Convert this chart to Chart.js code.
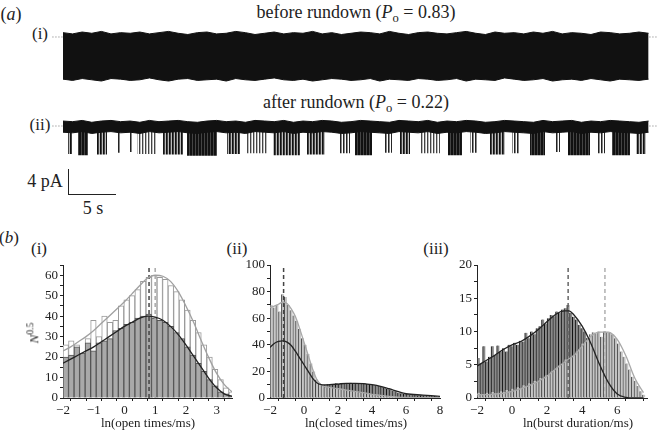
<!DOCTYPE html>
<html>
<head>
<meta charset="utf-8">
<script src="https://cdn.jsdelivr.net/npm/chart.js@4.4.0/dist/chart.umd.min.js"></script>
<style>
  body { margin: 0; width: 660px; height: 432px; position: relative; overflow: hidden; background: #fff;
         font-family: "Liberation Serif", "DejaVu Serif", serif; color: #222; }
  canvas { position: absolute; }
  .t { position: absolute; white-space: nowrap; line-height: 1; transform: translate(-50%, -50%); }
  .t sub { font-size: 0.7em; vertical-align: -0.3em; line-height: 0; }
  .bar { position: absolute; background: #222; }
</style>
</head>
<body>
<!-- (a) traces -->
<div class="t" style="left:11px;top:14px;font-size:18px">(<i>a</i>)</div>
<div class="t" style="left:356px;top:12px;font-size:18px">before rundown (<i>P</i><sub>o</sub> = 0.83)</div>
<div class="t" style="left:40px;top:33px;font-size:17px">(i)</div>
<canvas id="traceA" width="608" height="56" style="left:52px;top:28px"></canvas>

<div class="t" style="left:356px;top:102px;font-size:18px">after rundown (<i>P</i><sub>o</sub> = 0.22)</div>
<div class="t" style="left:40px;top:124px;font-size:17px">(ii)</div>
<canvas id="traceB" width="608" height="48" style="left:52px;top:114px"></canvas>

<!-- scale bar -->
<div class="t" style="left:45px;top:181px;font-size:18px">4 pA</div>
<div class="bar" style="left:68px;top:169px;width:1px;height:26px"></div>
<div class="bar" style="left:68px;top:194px;width:48px;height:1px"></div>
<div class="t" style="left:93px;top:208px;font-size:18px">5 s</div>

<!-- (b) histograms -->
<div class="t" style="left:9px;top:237px;font-size:17px">(<i>b</i>)</div>
<div class="t" style="left:39px;top:248px;font-size:17px">(i)</div>
<div class="t" style="left:237px;top:248px;font-size:17px">(ii)</div>
<div class="t" style="left:436px;top:248px;font-size:17px">(iii)</div>
<canvas id="histOpen" width="240" height="182" style="left:0px;top:250px"></canvas>
<canvas id="histClosed" width="222" height="182" style="left:225px;top:250px"></canvas>
<canvas id="histBurst" width="220" height="182" style="left:440px;top:250px"></canvas>
<div class="t" style="left:33px;top:333px;font-size:13px;transform:translate(-50%,-50%) rotate(-90deg)"><i>N</i><sup style="font-size:0.75em">0.5</sup></div>
<div class="t" style="left:148px;top:422px;font-size:13px">ln(open times/ms)</div>
<div class="t" style="left:356px;top:422px;font-size:13px">ln(closed times/ms)</div>
<div class="t" style="left:578px;top:422px;font-size:13px">ln(burst duration/ms)</div>

<script>
Chart.defaults.font.family = "'Liberation Serif', 'Times New Roman', serif"
Chart.defaults.font.size = 13
Chart.defaults.color = '#222'
Chart.defaults.animation = false

// ---- (a) current traces: time (s) and current edges (pA) ----
const traceTimes = [0,1,2,3,4,5,6,7,8,9,10,11,12,13,14,15,16,17,18,19,20,21,22,23,24,25,26,27,28,29,30,
  31,32,33,34,35,36,37,38,39,40,41,42,43,44,45,46,47,48,49,50,51,52,53,54,55,56,57,58,59,60,61]

// before rundown: the dense flicker band
const bandTopA = [0.7,0.5,0.8,0.6,0.9,0.5,0.7,0.6,0.8,0.5,
  0.7,0.9,0.6,0.4,0.7,0.8,0.5,0.6,0.9,0.7,
  0.4,0.6,0.8,0.5,0.7,0.6,0.9,0.5,0.7,0.4,
  0.6,0.8,0.7,0.5,0.9,0.6,0.4,0.7,0.8,0.6,
  0.5,0.7,0.9,0.6,0.4,0.8,0.6,0.7,0.5,0.8,
  0.6,0.9,0.5,0.7,0.6,0.4,0.8,0.7,0.5,0.6,
  0.8,0.6]
const bandBottomA = [-6.8,-7.0,-6.7,-6.9,-7.1,-6.7,-6.8,-7.0,-6.9,-6.6,
  -6.9,-7.1,-6.8,-6.7,-7.0,-6.9,-6.8,-7.1,-6.7,-6.9,
  -7.0,-6.8,-6.6,-6.9,-7.0,-6.8,-7.1,-6.9,-6.7,-6.8,
  -7.0,-6.9,-6.7,-7.1,-6.8,-6.9,-7.0,-6.7,-6.8,-7.0,
  -6.9,-6.7,-7.1,-6.8,-6.9,-7.0,-6.6,-6.8,-7.0,-6.9,
  -6.7,-7.1,-6.9,-6.8,-7.0,-6.7,-6.9,-7.1,-6.8,-6.9,
  -7.0,-6.8]
const gapTimesA = [19.3, 39.0, 42.5]

// after rundown: baseline noise band plus bursts of openings
const bandTopB = [0.8,0.7,0.9,0.6,0.8,0.9,0.7,0.8,0.6,0.9,
  0.7,0.8,0.9,0.7,0.6,0.8,0.9,0.7,0.8,0.6,
  0.9,0.8,0.7,0.9,0.6,0.8,0.7,0.9,0.8,0.6,
  0.7,0.9,0.8,0.7,0.6,0.9,0.8,0.7,0.9,0.6,
  0.8,0.7,0.9,0.8,0.6,0.7,0.9,0.8,0.7,0.6,
  0.9,0.7,0.8,0.9,0.6,0.8,0.7,0.9,0.8,0.7,
  0.6,0.8]
const bandBottomB = [-1.0,-1.1,-0.9,-1.2,-1.0,-0.9,-1.1,-1.0,-1.2,-0.9,
  -1.1,-1.0,-0.9,-1.1,-1.2,-1.0,-0.9,-1.1,-1.0,-1.2,
  -0.9,-1.0,-1.1,-0.9,-1.2,-1.0,-1.1,-0.9,-1.0,-1.2,
  -1.1,-0.9,-1.0,-1.1,-1.2,-0.9,-1.0,-1.1,-0.9,-1.2,
  -1.0,-1.1,-0.9,-1.0,-1.2,-1.1,-0.9,-1.0,-1.1,-1.2,
  -0.9,-1.1,-1.0,-0.9,-1.2,-1.0,-1.1,-0.9,-1.0,-1.1,
  -1.2,-1.0]
const burstStart = [0.52,1.56,3.54,5.63,6.98,7.71,10.42,12.92,17.08,19.17,21.88,25.42,28.85,30.42,
  33.54,35.10,37.19,40.10,42.40,44.48,46.77,48.65,51.25,52.60,55.63,57.19,59.69]
const burstEnd = [0.94,2.60,4.58,5.94,7.19,9.79,12.50,16.04,18.44,21.25,24.69,27.29,29.90,32.19,
  34.27,36.15,39.27,41.56,43.23,46.04,47.60,50.21,51.77,54.90,56.46,59.06,60.73]
const burstDepth = [-4.5,-4.7,-4.6,-4.3,-4.2,-4.5,-4.6,-4.8,-4.5,-4.4,-4.7,-4.6,-4.4,-4.7,
  -4.3,-4.5,-4.4,-4.7,-4.3,-4.6,-4.4,-4.7,-4.2,-4.7,-4.4,-4.7,-4.5]
const burstDensity = [0.8,0.9,0.8,0.6,0.6,0.4,0.7,0.9,0.7,0.4,0.8,0.8,0.6,0.9,
  0.6,0.7,0.4,0.9,0.6,0.7,0.5,0.9,0.6,0.9,0.6,0.9,0.7]

// ---- (b)(i) open times ----
const openBins = [-1.91,-1.73,-1.55,-1.37,-1.19,-1.01,-0.83,-0.65,-0.47,-0.29,-0.11,0.07,0.25,0.43,0.61,
  0.79,0.97,1.15,1.33,1.51,1.69,1.87,2.05,2.23,2.41,2.59,2.77,2.95,3.13,3.31,3.49]
const openBefore = [26,28,26,14,29,38,30,40,37,38,45,48,50,53,57,59,60,59,58,55,52,48,43,38,32,26,20,14,9,5,3]
const openAfter = [20,21,25,22,27,23,27,28,29,33,34,36,37,39,40,41,39,38,37,35,32,29,25,21,17,13,9,6,3,2,1]
const openFitX = [-2,-1.75,-1.5,-1.25,-1,-0.75,-0.5,-0.25,0,0.25,0.5,0.75,1,1.25,1.5,1.75,2,2.25,2.5,2.75,3,3.25,3.5]
const openFitBefore = [23,25,27.5,30,33,36.5,40,43.5,47,51,55,58.5,60,59.5,57,52,45,37,28,19.5,12,6.5,3]
const openFitAfter = [17,19,21,23,25,27.5,30,32.5,35,37,39,40,39.5,38,35,31,26,20.5,15,9.5,5,2,0.8]
const openMeanBefore = 1.0
const openMeanAfter = 0.8
const openXTicks = [-2,-1,0,1,2,3]
const openYTicks = [0,10,20,30,40,50,60]

// ---- (b)(ii) closed times ----
const closedBins = [-1.92,-1.75,-1.58,-1.42,-1.25,-1.08,-0.92,-0.75,-0.58,-0.42,
  -0.25,-0.08,0.08,0.25,0.42,0.58,0.75,0.92,1.08,1.25,
  1.42,1.58,1.75,1.92,2.08,2.25,2.42,2.58,2.75,2.92,
  3.08,3.25,3.42,3.58,3.75,3.92,4.08,4.25,4.42,4.58,
  4.75,4.92,5.08,5.25,5.42,5.58,5.75,5.92,6.08,6.25,
  6.42,6.58,6.75,6.92,7.08,7.25,7.42,7.58,7.75,7.92]
const closedBefore = [70,68,70,65,78,76,70,66,62,58,
  52,45,40,33,26,20,14,11,9,8,
  8,7.5,7,7,6.5,6,6,5.5,5,5,
  4.5,4,4,3.5,3,3,2.5,2,2,1.5,
  1.5,1,1,1,0.8,0.8,0.5,0.5,0.5,0.3,
  0.3,0.3,0,0,0,0,0,0,0,0]
const closedAfter = [38,40,41,43,42,43,41,39,36,33,
  29,26,23,19,16,13,11,10,10,10,
  10.5,10,10.5,11,10.5,11,11,11,11.5,11,
  11,11,10.5,11,10.5,10,10,9.5,9,8.5,
  8,7,6.5,5.5,5,4,3.5,3,3,2.5,
  2.5,2.5,2,2,2,2,1.5,1.5,1.5,1]
const closedFitX = [-2,-1.75,-1.5,-1.25,-1,-0.75,-0.5,-0.25,0,0.25,0.5,0.75,1,1.25,1.5,2,2.5,3,3.5,4,4.5,5,5.5,6,7,8]
const closedFitBefore = [68,69,70.5,72,71,67,61,52,42,32,22,14,10,8.5,8,7,6,5,4,2.8,2,1.2,0.7,0.4,0.2,0.1]
const closedFitAfter = [38,41,42.5,43,42,39.5,35,30,25,20,15,11.5,10,9.8,10,10.5,11,11,10.8,10,8.8,7,5,3.2,2.2,1.2]
const closedMeanAfter = -1.2
const closedXTicks = [-2,0,2,4,6,8]
const closedYTicks = [0,20,40,60,80,100]

// ---- (b)(iii) burst durations ----
const burstBins = [-1.92,-1.76,-1.60,-1.44,-1.28,-1.12,-0.96,-0.80,-0.64,-0.48,
  -0.32,-0.16,0.00,0.16,0.32,0.48,0.64,0.80,0.96,1.12,
  1.28,1.44,1.60,1.76,1.92,2.08,2.24,2.40,2.56,2.72,
  2.88,3.04,3.20,3.36,3.52,3.68,3.84,4.00,4.16,4.32,
  4.48,4.64,4.80,4.96,5.12,5.28,5.44,5.60,5.76,5.92,
  6.08,6.24,6.40,6.56,6.72,6.88,7.04,7.20,7.36,7.52]
const burstBefore = [0.8,0.6,0.5,0.8,0.6,0.9,0.7,0.8,1.0,0.9,
  1.2,1.0,1.4,1.2,1.6,1.5,1.9,1.7,2.2,2.1,
  2.6,2.4,3.0,2.9,3.4,3.5,4.0,4.2,4.6,5.0,
  5.2,5.8,5.6,6.2,6.5,7.0,7.4,8.2,8.4,9.0,
  9.6,9.9,9.7,10.0,9.2,10.0,9.9,9.8,9.6,9.0,
  8.2,7.0,6.2,5.2,4.3,3.2,2.6,1.8,1.0,0.5]
const burstAfter = [6.0,5.2,7.8,5.5,6.2,7.8,6.5,7.9,7.0,7.5,
  7.0,8.0,7.8,8.3,8.0,8.6,8.5,9.8,9.0,10.0,
  9.6,10.5,10.8,11.8,11.2,12.0,12.5,12.3,13.0,12.8,
  13.3,13.5,14.0,12.8,12.2,11.8,11.0,10.5,10.0,9.0,
  8.2,7.3,6.5,5.5,4.5,3.6,2.8,2.0,1.4,0.9,
  0.6,0.4,0.2,0.1,0,0,0,0,0,0]
const burstFitX = [-2,-1.5,-1,-0.5,0,0.5,1,1.5,2,2.5,3,3.25,3.5,4,4.5,5,5.5,6,6.5,7,7.5]
const burstFitBefore = [0.5,0.5,0.6,0.7,1.0,1.4,1.9,2.5,3.3,4.4,5.4,5.9,6.3,7.8,9.3,9.9,9.9,8.8,6.3,3.0,0.8]
const burstFitAfter = [4.8,5.6,6.4,7.3,8.0,8.5,9.3,10.3,11.5,12.6,13.1,13.1,12.6,10.8,8.2,5.0,2.3,0.6,0.1,0,0]
const burstMeanBefore = 5.3
const burstMeanAfter = 3.2
const burstXTicks = [-2,0,2,4,6]
const burstYTicks = [0,5,10,15,20]

const toXY = (xs, ys) => xs.map((x, i) => ({ x: x, y: ys[i] }))
const minus = v => v < 0 ? '\u2212' + Math.abs(v) : String(v)

// vertical hatching used to fake the densely flickering bursts
function hatch(ctx, density) {
  const c = document.createElement('canvas')
  c.width = 3
  c.height = 1
  const g = c.getContext('2d')
  let cols = ['#444', '#bbb', '#fff']
  if (density >= 0.85) cols = ['#111', '#111', '#444']
  else if (density >= 0.65) cols = ['#111', '#444', '#bbb']
  else if (density >= 0.5) cols = ['#222', '#888', '#fff']
  cols.forEach((col, i) => { g.fillStyle = col; g.fillRect(i, 0, 1, 1) })
  return ctx.createPattern(c, 'repeat')
}

function traceChart(id, top, bottom, yMin, yMax, extra) {
  const datasets = [
    { data: toXY(traceTimes, top), borderColor: '#111', borderWidth: 1, fill: '+1', backgroundColor: '#111' },
    { data: toXY(traceTimes, bottom), borderColor: '#111', borderWidth: 1, fill: false }
  ].concat(extra)
  // closed level, dotted, peeks out on both sides
  datasets.push({ data: [{ x: -1.1, y: 0 }, { x: 62.0, y: 0 }], borderColor: '#777', borderWidth: 1,
    borderDash: [1, 2], fill: false })
  new Chart(document.getElementById(id), {
    type: 'line',
    data: { datasets: datasets },
    options: {
      responsive: false,
      layout: { padding: 0 },
      plugins: { legend: { display: false }, tooltip: { enabled: false } },
      elements: { point: { radius: 0 }, line: { tension: 0 } },
      scales: {
        x: { type: 'linear', min: -1.146, max: 62.19, display: false },
        y: { min: yMin, max: yMax, display: false }
      }
    }
  })
}

// trace (i): closed level at y = 37 px, 6.2 px per pA
const gapLines = gapTimesA.map(t => ({
  data: [{ x: t, y: -6.4 }, { x: t, y: 0.3 }], borderColor: '#bbb', borderWidth: 1, fill: false
}))
traceChart('traceA', bandTopA, bandBottomA, -7.58, 1.45, gapLines)

// trace (ii): closed level at y = 126 px
const ctxB = document.getElementById('traceB').getContext('2d')
const bursts = burstStart.map((s, i) => ({
  data: [{ x: s, y: 0 }, { x: s, y: burstDepth[i] }, { x: burstEnd[i], y: burstDepth[i] }, { x: burstEnd[i], y: 0 }],
  borderWidth: 0, borderColor: 'rgba(0,0,0,0)', fill: 'origin', backgroundColor: hatch(ctxB, burstDensity[i])
}))
traceChart('traceB', bandTopB, bandBottomB, -5.8, 1.935, bursts)

function histChart(id, o) {
  const datasets = []
  o.fits.forEach(f => datasets.push({
    type: 'line', data: toXY(o.fitX, f.y), borderColor: f.color, borderWidth: 1.3,
    cubicInterpolationMode: 'monotone', pointRadius: 0, fill: false
  }))
  o.means.forEach(m => datasets.push({
    type: 'line', data: [{ x: m.x, y: 0 }, { x: m.x, y: o.yMax }], borderColor: m.color,
    borderWidth: 1.5, borderDash: [4, 3], pointRadius: 0, fill: false
  }))
  datasets.push(Object.assign({ type: 'bar', data: toXY(o.bins, o.front) }, o.frontStyle))
  datasets.push(Object.assign({ type: 'bar', data: toXY(o.bins, o.back) }, o.backStyle))

  const axis = (ticks, labels, fitFn) => ({
    type: 'linear',
    offset: false,
    grid: { display: true, drawOnChartArea: false, drawTicks: true, tickLength: 3, color: '#222', tickColor: '#222' },
    border: { display: true, color: '#222', width: 1 },
    ticks: {
      autoSkip: false, maxRotation: 0, padding: 2, color: '#222',
      callback: v => labels.includes(v) ? minus(v) : ''
    },
    afterBuildTicks: s => { s.ticks = ticks.map(v => ({ value: v })) },
    afterFit: fitFn
  })

  const x = axis(o.xTickVals, o.xLabels, s => { s.height = 34 })
  x.min = o.xMin
  x.max = o.xMax
  const y = axis(o.yTickVals, o.yLabels, s => { s.width = o.yWidth })
  y.min = 0
  y.max = o.yMax

  new Chart(document.getElementById(id), {
    type: 'bar',
    data: { datasets: datasets },
    options: {
      responsive: false,
      layout: { padding: { left: 0, top: 15, right: o.padRight, bottom: 0 } },
      plugins: { legend: { display: false }, tooltip: { enabled: false } },
      datasets: { bar: { grouped: false, barPercentage: 1, categoryPercentage: 1 } },
      scales: { x: x, y: y }
    }
  })
}

const stripeLight = { backgroundColor: '#c6c6c6', borderColor: '#4a4a4a', borderWidth: { left: 1, right: 0, top: 0, bottom: 0 } }
const stripeDark = { backgroundColor: '#8a8a8a', borderColor: '#111', borderWidth: { left: 1, right: 0, top: 0, bottom: 0 } }

histChart('histOpen', {
  bins: openBins, front: openAfter, back: openBefore,
  frontStyle: { backgroundColor: '#a9a9a9', borderColor: '#555', borderWidth: 1 },
  backStyle: { backgroundColor: '#fff', borderColor: '#9a9a9a', borderWidth: 1 },
  fitX: openFitX,
  fits: [{ y: openFitAfter, color: '#222' }, { y: openFitBefore, color: '#a0a0a0' }],
  means: [{ x: openMeanAfter, color: '#444' }, { x: openMeanBefore, color: '#aaa' }],
  xMin: -2, xMax: 3.5, yMax: 65,
  xTickVals: [-2,-1.5,-1,-0.5,0,0.5,1,1.5,2,2.5,3,3.5], xLabels: openXTicks,
  yTickVals: [0,5,10,15,20,25,30,35,40,45,50,55,60,65], yLabels: openYTicks,
  yWidth: 63, padRight: 8
})

histChart('histClosed', {
  bins: closedBins, front: closedBefore, back: closedAfter,
  frontStyle: stripeLight, backStyle: stripeDark,
  fitX: closedFitX,
  fits: [{ y: closedFitAfter, color: '#222' }, { y: closedFitBefore, color: '#a8a8a8' }],
  means: [{ x: closedMeanAfter, color: '#444' }],
  xMin: -2, xMax: 8, yMax: 100,
  xTickVals: [-2,-1,0,1,2,3,4,5,6,7,8], xLabels: closedXTicks,
  yTickVals: [0,10,20,30,40,50,60,70,80,90,100], yLabels: closedYTicks,
  yWidth: 45, padRight: 7
})

histChart('histBurst', {
  bins: burstBins, front: burstBefore, back: burstAfter,
  frontStyle: stripeLight, backStyle: stripeDark,
  fitX: burstFitX,
  fits: [{ y: burstFitAfter, color: '#222' }, { y: burstFitBefore, color: '#a8a8a8' }],
  means: [{ x: burstMeanAfter, color: '#666' }, { x: burstMeanBefore, color: '#b0b0b0' }],
  xMin: -2, xMax: 7.7, yMax: 20,
  xTickVals: [-2,-1,0,1,2,3,4,5,6,7], xLabels: burstXTicks,
  yTickVals: [0,2.5,5,7.5,10,12.5,15,17.5,20], yLabels: burstYTicks,
  yWidth: 37, padRight: 13
})
</script>
</body>
</html>
